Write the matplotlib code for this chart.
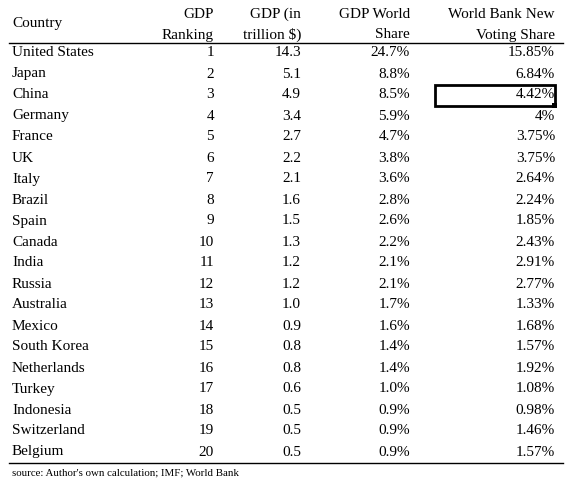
import matplotlib.pyplot as plt
from matplotlib.patches import Rectangle

countries = ["United States", "Japan", "China", "Germany", "France", "UK", "Italy",
             "Brazil", "Spain", "Canada", "India", "Russia", "Australia", "Mexico",
             "South Korea", "Netherlands", "Turkey", "Indonesia", "Switzerland", "Belgium"]
ranking = list(range(1, 21))
gdp = ["14.3", "5.1", "4.9", "3.4", "2.7", "2.2", "2.1", "1.6", "1.5", "1.3",
       "1.2", "1.2", "1.0", "0.9", "0.8", "0.8", "0.6", "0.5", "0.5", "0.5"]
world_share = ["24.7%", "8.8%", "8.5%", "5.9%", "4.7%", "3.8%", "3.6%", "2.8%", "2.6%", "2.2%",
               "2.1%", "2.1%", "1.7%", "1.6%", "1.4%", "1.4%", "1.0%", "0.9%", "0.9%", "0.9%"]
voting_share = ["15.85%", "6.84%", "4.42%", "4%", "3.75%", "3.75%", "2.64%", "2.24%", "1.85%", "2.43%",
                "2.91%", "2.77%", "1.33%", "1.68%", "1.57%", "1.92%", "1.08%", "0.98%", "1.46%", "1.57%"]
headers = [("Country", ""), ("GDP", "Ranking"), ("GDP (in", "trillion $)"),
           ("GDP World", "Share"), ("World Bank New", "Voting Share")]
source = "source: Author's own calculation; IMF; World Bank"

plt.rcParams['font.family'] = ['Liberation Serif', 'DejaVu Serif']
fs = 11

fig = plt.figure(figsize=(5.78, 4.88), dpi=100)
ax = fig.add_axes([0, 0, 1, 1])
ax.set_xlim(0, 578)
ax.set_ylim(488, 0)
ax.axis('off')

col_right = [None, 214, 301, 410, 555]
x_left = 12
row0 = 53
dy = 21.0

# header
ax.text(x_left, 24, headers[0][0], fontsize=fs, ha='left', va='center')
for i in range(1, 5):
    ax.text(col_right[i], 14, headers[i][0], fontsize=fs, ha='right', va='center')
    ax.text(col_right[i], 35, headers[i][1], fontsize=fs, ha='right', va='center')

ax.plot([9, 563], [43, 43], color='black', lw=1.0)

for r, c in enumerate(countries):
    y = row0 + r * dy
    ax.text(x_left, y, c, fontsize=fs, ha='left', va='center')
    ax.text(col_right[1], y, str(ranking[r]), fontsize=fs, ha='right', va='center')
    ax.text(col_right[2], y, gdp[r], fontsize=fs, ha='right', va='center')
    ax.text(col_right[3], y, world_share[r], fontsize=fs, ha='right', va='center')
    ax.text(col_right[4], y, voting_share[r], fontsize=fs, ha='right', va='center')

ax.plot([9, 563], [463, 463], color='black', lw=1.0)

# highlighted China cell
ci = countries.index("China")
yc = row0 + ci * dy
ax.add_patch(Rectangle((435, yc - 10.5), 120, 21, fill=False, ec='black', lw=2))
ax.add_patch(Rectangle((552, yc + 8), 5, 5, fc='black', ec='none'))

ax.text(x_left, 473, source, fontsize=7.8, ha='left', va='center')

fig.savefig('out.png', dpi=100)
